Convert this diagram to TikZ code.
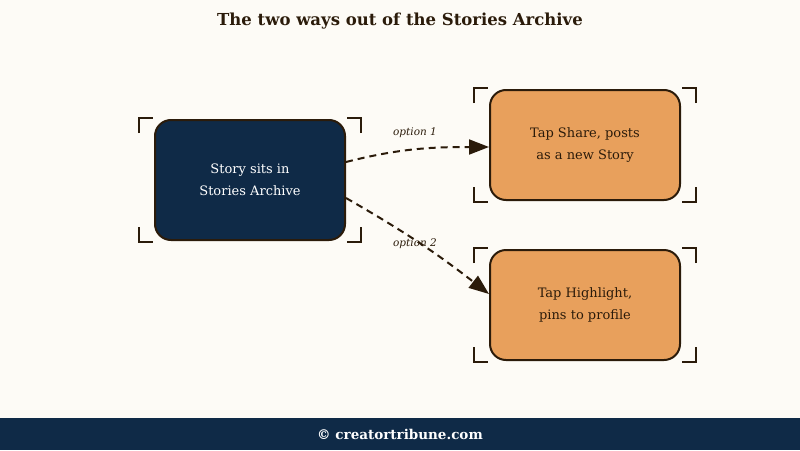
\documentclass[tikz,border=0pt]{standalone}
\usepackage{fontspec}
\setmainfont{DejaVu Serif}
\usetikzlibrary{arrows.meta,calc}
\definecolor{bgc}{HTML}{FDFBF6}
\definecolor{navy}{HTML}{0F2A47}
\definecolor{orng}{HTML}{E8A05C}
\definecolor{edge}{HTML}{2B1B0A}
\tikzset{
  box/.style={draw=edge, line width=2pt, rounded corners=16pt, minimum width=190pt, minimum height=110pt, align=center, font=\fontsize{13}{22}\selectfont},
  darkbox/.style={box, fill=navy, text=white, minimum height=120pt},
  lightbox/.style={box, fill=orng, text=edge},
  bracket/.style={draw=edge, line width=2pt},
  conn/.style={draw=edge, line width=2pt, dashed, dash pattern=on 7pt off 5pt, -{Triangle[length=20pt,width=15pt]}},
  lbl/.style={font=\itshape\fontsize{10.5}{12}\selectfont, text=edge}
}
\newcommand{\brackets}[1]{%
  \draw[bracket] ($(#1.north west)+(-15,14)$) -- ($(#1.north west)+(-15,-1)$) -- ($(#1.north west)+(-1,-1)$);
  \draw[bracket] ($(#1.north east)+(15,14)$) -- ($(#1.north east)+(15,-1)$) -- ($(#1.north east)+(1,-1)$);
  \draw[bracket] ($(#1.south west)+(-15,-14)$) -- ($(#1.south west)+(-15,1)$) -- ($(#1.south west)+(-1,1)$);
  \draw[bracket] ($(#1.south east)+(15,-14)$) -- ($(#1.south east)+(15,1)$) -- ($(#1.south east)+(1,1)$);
}
\begin{document}
\begin{tikzpicture}[x=1pt,y=-1pt]
  \fill[bgc] (0,0) rectangle (800,450);
  \useasboundingbox (0,0) rectangle (800,450);
  \fill[navy] (0,418) rectangle (800,450);
  \node[font=\bfseries\fontsize{16.5}{19}\selectfont, text=edge] (title) at (400,21) {The two ways out of the Stories Archive};
  \node[font=\bfseries\fontsize{13.5}{15}\selectfont, text=white] (foot) at (400,434) {© creatortribune.com};
  \node[darkbox] (arch) at (250,180) {Story sits in\\Stories Archive};
  \node[lightbox] (share) at (585,145) {Tap Share, posts\\as a new Story};
  \node[lightbox] (hl) at (585,305) {Tap Highlight,\\pins to profile};
  \brackets{arch}
  \brackets{share}
  \brackets{hl}
  \draw[conn] ($(arch.east)+(0,-18)$) .. controls +(55,-14) and +(-55,0) .. ($(share.west)+(0,2)$);
  \draw[conn] ($(arch.east)+(0,18)$) to[bend left=4] ($(hl.west)+(0,-11)$);
  \node[lbl] (o1) at (415,133) {option 1};
  \node[lbl] (o2) at (415,244) {option 2};
\end{tikzpicture}
\end{document}
